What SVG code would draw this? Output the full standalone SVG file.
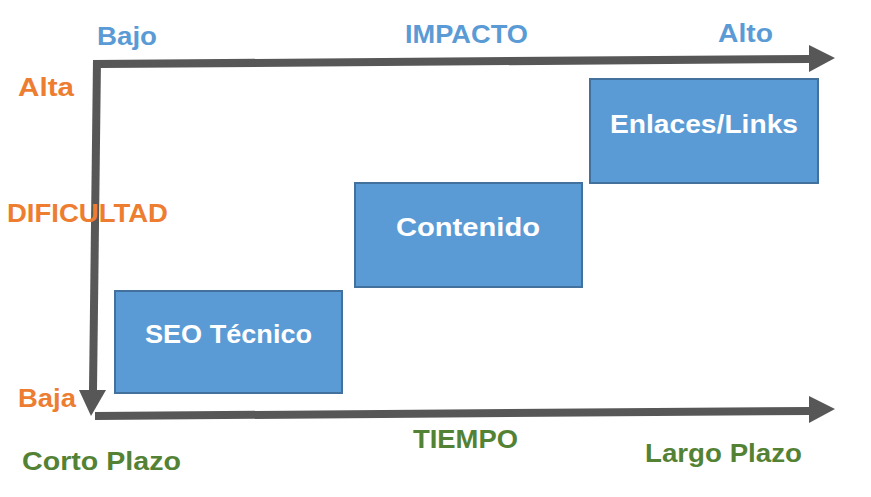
<svg xmlns="http://www.w3.org/2000/svg" width="871" height="497" viewBox="0 0 871 497">
<style>
.lbl{font-family:"Liberation Sans",Arial,sans-serif;font-weight:bold;font-size:26px}
.blue{fill:#5B9BD5}.orange{fill:#ED7D31}.green{fill:#548235}
.box{fill:#5B9BD5;stroke:#41719C;stroke-width:2}
.bt{font-family:"Liberation Sans",Arial,sans-serif;font-weight:bold;font-size:25px;fill:#FFFFFF}
.ax{fill:#575757}
</style>
<rect width="871" height="497" fill="#FFFFFF"/>
<g id="connectors">
<polygon class="ax" points="93,60 810,55 810,63 101,68"/>
<polygon class="ax" points="809,45 835,58 809,72"/>
<polygon class="ax" points="93,60 101,60 97,390 89,390"/>
<polygon class="ax" points="79,390 106,390 91,416"/>
<polygon class="ax" points="95,412 810,407 810,415 95,420"/>
<polygon class="ax" points="809,396 835,409 809,423"/>
</g>
<g id="node-seo">
<rect class="box" x="115" y="291" width="227" height="102"/>
<text class="bt" x="228.5" y="343" text-anchor="middle" textLength="167" lengthAdjust="spacingAndGlyphs">SEO Técnico</text>
</g>
<g id="node-contenido">
<rect class="box" x="355" y="183" width="227" height="104"/>
<text class="bt" x="468" y="236" text-anchor="middle" textLength="144" lengthAdjust="spacingAndGlyphs">Contenido</text>
</g>
<g id="node-enlaces">
<rect class="box" x="590" y="79" width="228" height="104"/>
<text class="bt" x="704" y="133" text-anchor="middle" textLength="188" lengthAdjust="spacingAndGlyphs">Enlaces/Links</text>
</g>
<g id="labels">
<text class="lbl blue" x="97" y="45" textLength="60" lengthAdjust="spacingAndGlyphs">Bajo</text>
<text class="lbl blue" x="405" y="43" textLength="123" lengthAdjust="spacingAndGlyphs">IMPACTO</text>
<text class="lbl blue" x="718" y="42" textLength="55" lengthAdjust="spacingAndGlyphs">Alto</text>
<text class="lbl orange" x="18" y="96" textLength="56" lengthAdjust="spacingAndGlyphs">Alta</text>
<text class="lbl orange" x="7" y="222" textLength="161" lengthAdjust="spacingAndGlyphs">DIFICULTAD</text>
<text class="lbl orange" x="18" y="407" textLength="58" lengthAdjust="spacingAndGlyphs">Baja</text>
<text class="lbl green" x="413" y="448" textLength="105" lengthAdjust="spacingAndGlyphs">TIEMPO</text>
<text class="lbl green" x="22" y="470" textLength="159" lengthAdjust="spacingAndGlyphs">Corto Plazo</text>
<text class="lbl green" x="645" y="462" textLength="157" lengthAdjust="spacingAndGlyphs">Largo Plazo</text>
</g>
</svg>
